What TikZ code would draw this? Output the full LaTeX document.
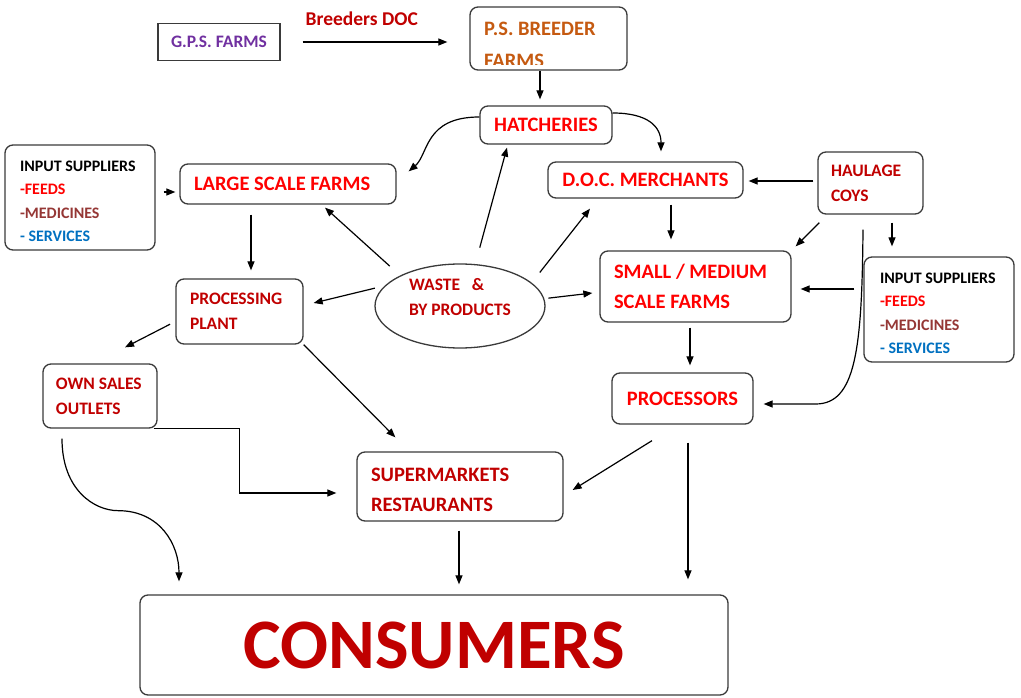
\documentclass[tikz,border=0pt]{standalone}
\usepackage{fontspec}
\setmainfont{Carlito}
\usepackage{tikz}
\usetikzlibrary{arrows.meta, positioning, shapes.geometric}
\definecolor{flowred}{HTML}{FF0000}
\definecolor{flowdark}{HTML}{C00000}
\definecolor{gpspurple}{HTML}{7030A0}
\definecolor{psbrown}{HTML}{C55A11}
\definecolor{medbrown}{HTML}{953735}
\definecolor{servblue}{HTML}{0070C0}
\definecolor{boxline}{HTML}{3A3A3A}
\newcommand\tightspaces{\spaceskip=0pt\xspaceskip=0pt\relax}

\begin{document}
\begin{tikzpicture}[x=1pt, y=-1pt,
    every node/.style={execute at begin node=\tightspaces},
    stage/.style={draw=boxline, line width=1.3pt, rounded corners=8pt,
                  inner xsep=14pt, inner ysep=0pt, align=left},
    flow/.style={-{Triangle[length=9pt, width=7pt]}, line width=1.2pt},
    bigtxt/.style={font=\fontsize{20.5}{30}\selectfont\bfseries},
    midtxt/.style={font=\fontsize{17.5}{25}\selectfont\bfseries},
    smalltxt/.style={font=\fontsize{16}{23.3}\selectfont\bfseries},
  ]
    \useasboundingbox (0,0) rectangle (1021,698);

    \node[draw=boxline, line width=1.2pt, minimum width=122pt, minimum height=37pt,
          midtxt, text=gpspurple] (gps) at (219,42) {G.P.S. FARMS};
    \begin{scope}
      \clip (470,7) rectangle (627,65);
      \node[anchor=north west, inner sep=0pt, align=left, text=psbrown,
            font=\fontsize{20.5}{32}\selectfont\bfseries] (pslabel) at (484,22) {P.S. BREEDER\\FARMS};
    \end{scope}
    \node[stage, minimum width=157pt, minimum height=63pt] (psb) at (548.5,38.5) {};
    \node[stage, align=center, minimum width=132pt, minimum height=38pt, bigtxt, text=flowred]
      (hatch) at (546,125) {HATCHERIES};
    \node[stage, text width=188pt, minimum height=40pt, bigtxt, text=flowred]
      (lsf) at (288,184) {LARGE SCALE FARMS};
    \node[stage, inner xsep=15pt, text width=120pt, minimum height=105pt, text height=18pt, smalltxt]
      (insL) at (80,197.5) {INPUT SUPPLIERS\\ \textcolor{flowred}{-FEEDS}\\
        \textcolor{medbrown}{-MEDICINES}\\ \textcolor{servblue}{- SERVICES}};
    \node[stage, align=center, minimum width=195pt, minimum height=36pt, bigtxt, text=flowred]
      (doc) at (645.5,180) {D.O.C. MERCHANTS};
    \node[stage, inner xsep=13pt, text width=79pt, minimum height=62pt, midtxt, text=flowdark]
      (haul) at (870.5,183) {HAULAGE\\COYS};
    \node[stage, inner xsep=16pt, text width=118pt, minimum height=105pt, text height=18pt, smalltxt]
      (insR) at (939,309.5) {INPUT SUPPLIERS\\ \textcolor{flowred}{-FEEDS}\\
        \textcolor{medbrown}{-MEDICINES}\\ \textcolor{servblue}{- SERVICES}};
    \node[stage, text width=163pt, minimum height=71pt, bigtxt, text=flowred]
      (smf) at (695.5,286.5) {SMALL / MEDIUM\\SCALE FARMS};
    \node[draw=boxline, line width=1.3pt, ellipse, minimum width=170pt, minimum height=84pt,
          inner sep=0pt, align=left, text depth=19pt, midtxt, text=flowdark]
      (waste) at (460,306) {WASTE\ \ \ \&\\BY PRODUCTS};
    \node[stage, text width=99pt, minimum height=65pt, midtxt, text=flowdark]
      (pp) at (239.5,311.5) {PROCESSING\\PLANT};
    \node[stage, inner xsep=13pt, text width=88pt, minimum height=64pt, midtxt, text=flowdark]
      (osl) at (100,396) {OWN SALES\\OUTLETS};
    \node[stage, align=center, minimum width=141pt, minimum height=51pt, bigtxt, text=flowred]
      (proc) at (682.5,398.5) {PROCESSORS};
    \node[stage, text width=178pt, minimum height=69pt, text height=20pt, bigtxt, text=flowdark]
      (smr) at (460,486.5) {SUPERMARKETS\\RESTAURANTS};
    \node[stage, align=center, minimum width=588pt, minimum height=100pt, text=flowdark,
          font=\fontsize{71}{80}\selectfont\bfseries] (cons) at (434,645) {CONSUMERS};

    \draw[flow, shorten <=22pt, shorten >=22pt] (gps.east) --
      node[pos=0.43, above=16pt, inner sep=0pt, text=flowdark,
           font=\fontsize{19.5}{22}\selectfont\bfseries] (brd) {Breeders DOC}
      (gps.east -| psb.west);
    \draw[flow, shorten >=6pt] ([xshift=-8.5pt]psb.south) -- ([xshift=-6pt]hatch.north);
    \draw[flow] ([yshift=8pt]hatch.west) .. controls +(-55,0) and +(20,-17) ..
      ([xshift=12pt,yshift=-8pt]lsf.north east);
    \draw[flow] ([yshift=12pt]hatch.east) .. controls +(35,0) and +(0,-25) ..
      ([xshift=15.5pt,yshift=10pt]doc.north);
    \draw[flow, shorten <=8pt, shorten >=4pt] ([yshift=-8pt]lsf.west -| insL.east) -- ([yshift=-8pt]lsf.west);
    \draw[flow, shorten <=10pt, shorten >=8pt] ([xshift=-37pt]lsf.south) -- ([xshift=-37pt]lsf.south |- pp.north);
    \draw[flow, shorten <=14pt] (waste.153) -- ([xshift=37pt,yshift=-3pt]lsf.south);
    \draw[flow, shorten <=17pt] (waste.70) -- ([xshift=-39pt,yshift=-3pt]hatch.south);
    \draw[flow, shorten <=13pt] (waste.18) -- ([xshift=-55.5pt,yshift=-10pt]doc.south);
    \draw[flow, shorten <=4pt] (waste.5) -- ([xshift=-7pt,yshift=-6.5pt]smf.west);
    \draw[flow, shorten <=10pt] (waste.165) -- ([xshift=10pt,yshift=8.5pt]pp.east);
    \draw[flow, shorten <=4pt, shorten >=5pt] ([yshift=2pt]haul.west) -- ([yshift=2pt]haul.west -| doc.east);
    \draw[flow, shorten <=6pt, shorten >=11pt] ([xshift=25.5pt]doc.south) -- ([xshift=25.5pt]doc.south |- smf.north);
    \draw[flow] ([xshift=2pt,yshift=-8pt]haul.south west) -- ([xshift=4pt,yshift=4pt]smf.north east);
    \draw[flow, shorten <=8pt, shorten >=10pt] ([xshift=21.5pt]haul.south) -- ([xshift=21.5pt]haul.south |- insR.north);
    \draw[flow] ([xshift=-7.5pt,yshift=-15pt]haul.south) .. controls +(-1,120) and +(40,0) ..
      ([xshift=62pt,yshift=-5.5pt]proc.east) -- ([xshift=10pt,yshift=-5.5pt]proc.east);
    \draw[flow, shorten <=9pt, shorten >=9pt] ([yshift=20.5pt]insR.west) -- ([yshift=20.5pt]insR.west -| smf.east);
    \draw[flow, shorten <=5pt, shorten >=7pt] ([xshift=-5.5pt]smf.south) -- ([xshift=-5.5pt]smf.south |- proc.north);
    \draw[flow, shorten <=6pt] ([yshift=-10pt]pp.west) -- ([xshift=25pt,yshift=16pt]osl.north);
    \draw[flow] (pp.south east) -- ([xshift=39pt,yshift=14pt]smr.north west);
    \draw[flow] ([xshift=-4pt]osl.south east) -- ++(86,0) |- ([xshift=-20pt,yshift=-6.5pt]smr.west);
    \draw[flow] ([xshift=-38pt,yshift=-10pt]osl.south) .. controls +(0,52) and +(-23,0) .. ++(56,72)
      .. controls +(42,0) and +(0,-37) .. ([xshift=-255pt,yshift=13pt]cons.north);
    \draw[flow] ([xshift=-30.5pt,yshift=-16pt]proc.south) -- ([xshift=9pt,yshift=-3.5pt]smr.east);
    \draw[flow, shorten <=9pt, shorten >=10pt] ([xshift=-1pt]smr.south) -- ([xshift=-1pt]smr.south |- cons.north);
    \draw[flow, shorten <=18pt, shorten >=15pt] ([xshift=5.5pt]proc.south) -- ([xshift=5.5pt]proc.south |- cons.north);
  \end{tikzpicture}
\end{document}
